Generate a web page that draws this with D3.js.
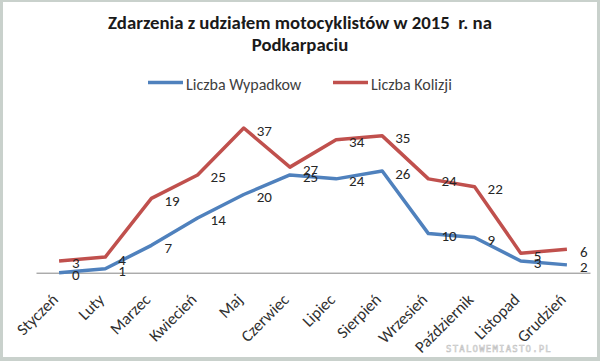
<!DOCTYPE html>
<html>
<head>
<meta charset="utf-8">
<script src="https://cdn.jsdelivr.net/npm/d3@7.9.0/dist/d3.min.js"></script>
<style>
  body { margin: 0; background: #fff; }
  svg text { font-family: Calibri, Carlito, Lato, sans-serif; }
</style>
</head>
<body>
<svg id="chart" width="600" height="361"></svg>
<script>
// --- data ---
const months = ['Styczeń', 'Luty', 'Marzec', 'Kwiecień', 'Maj', 'Czerwiec',
  'Lipiec', 'Sierpień', 'Wrzesień', 'Październik', 'Listopad', 'Grudzień'];
const wypadki = [0, 1, 7, 14, 20, 25, 24, 26, 10, 9, 3, 2];
const kolizje = [3, 4, 19, 25, 37, 27, 34, 35, 24, 22, 5, 6];
const seriesNames = ['Liczba Wypadkow', 'Liczba Kolizji'];
const seriesColors = ['#4f81bd', '#c0504d'];
const titleLines = ['Zdarzenia z udziałem motocyklistów w 2015  r. na', 'Podkarpaciu'];

const svg = d3.select('#chart');

// grey frame around the picture
svg.append('rect').attr('width', 600).attr('height', 361).attr('fill', '#c9d1cc');
svg.append('rect').attr('x', 3).attr('y', 2).attr('width', 594).attr('height', 355).attr('fill', '#fff');

// scales
const x = d3.scaleBand().domain(months).range([36, 590]);
const y = d3.scaleLinear().domain([0, 40]).range([272.7, 116.3]);
const cx = (m) => x(m) + x.bandwidth() / 2;

// title
svg.append('text')
  .attr('x', 300).attr('y', 29)
  .attr('text-anchor', 'middle')
  .attr('font-weight', 'bold').attr('font-size', 18.8)
  .attr('fill', '#1a1a1a')
  .style('white-space', 'pre')
  .selectAll('tspan')
  .data(titleLines)
  .enter()
  .append('tspan')
  .attr('x', 300)
  .attr('dy', (d, i) => i === 0 ? 0 : 22)
  .text((d) => d);

// legend
const legendX = [148, 333];
seriesNames.forEach((name, i) => {
  svg.append('line')
    .attr('x1', legendX[i]).attr('x2', legendX[i] + 35)
    .attr('y1', 82.5).attr('y2', 82.5)
    .attr('stroke', seriesColors[i]).attr('stroke-width', 3.5);
  svg.append('text')
    .attr('x', legendX[i] + 38).attr('y', 90)
    .attr('font-size', 16).attr('fill', '#404040')
    .text(name);
});

// category axis (line only, rotated labels)
const xAxis = svg.append('g')
  .attr('transform', 'translate(0,272.7)')
  .call(d3.axisBottom(x).tickSize(0).tickPadding(0));
xAxis.select('.domain').attr('stroke', '#868686').attr('stroke-width', 1);
xAxis.selectAll('text')
  .attr('font-size', 16.5)
  .attr('fill', '#303030')
  .attr('text-anchor', 'end')
  .attr('dy', 0)
  .attr('transform', 'translate(0,28) rotate(-45)');

// lines
const line = d3.line()
  .x((d, i) => cx(months[i]))
  .y((d) => y(d));

[wypadki, kolizje].forEach((vals, s) => {
  svg.append('path')
    .datum(vals)
    .attr('fill', 'none')
    .attr('stroke', seriesColors[s])
    .attr('stroke-width', 3.5)
    .attr('stroke-linejoin', 'round')
    .attr('d', line);
});

// data labels, to the right of each point
[wypadki, kolizje].forEach((vals) => {
  svg.append('g')
    .selectAll('text')
    .data(vals)
    .enter()
    .append('text')
    .attr('x', (d, i) => cx(months[i]) + 13)
    .attr('y', (d) => y(d) + 7.5)
    .attr('font-size', 15)
    .attr('fill', '#262626')
    .text((d) => d);
});

// watermark
svg.append('text')
  .attr('x', 552).attr('y', 352)
  .attr('text-anchor', 'end')
  .attr('font-size', 9)
  .attr('letter-spacing', 1.2)
  .attr('fill', 'none')
  .attr('stroke', '#c4c4c4')
  .attr('stroke-width', 0.6)
  .style('font-family', 'DejaVu Sans Mono, monospace')
  .text('STALOWEMIASTO.PL');
</script>
</body>
</html>
